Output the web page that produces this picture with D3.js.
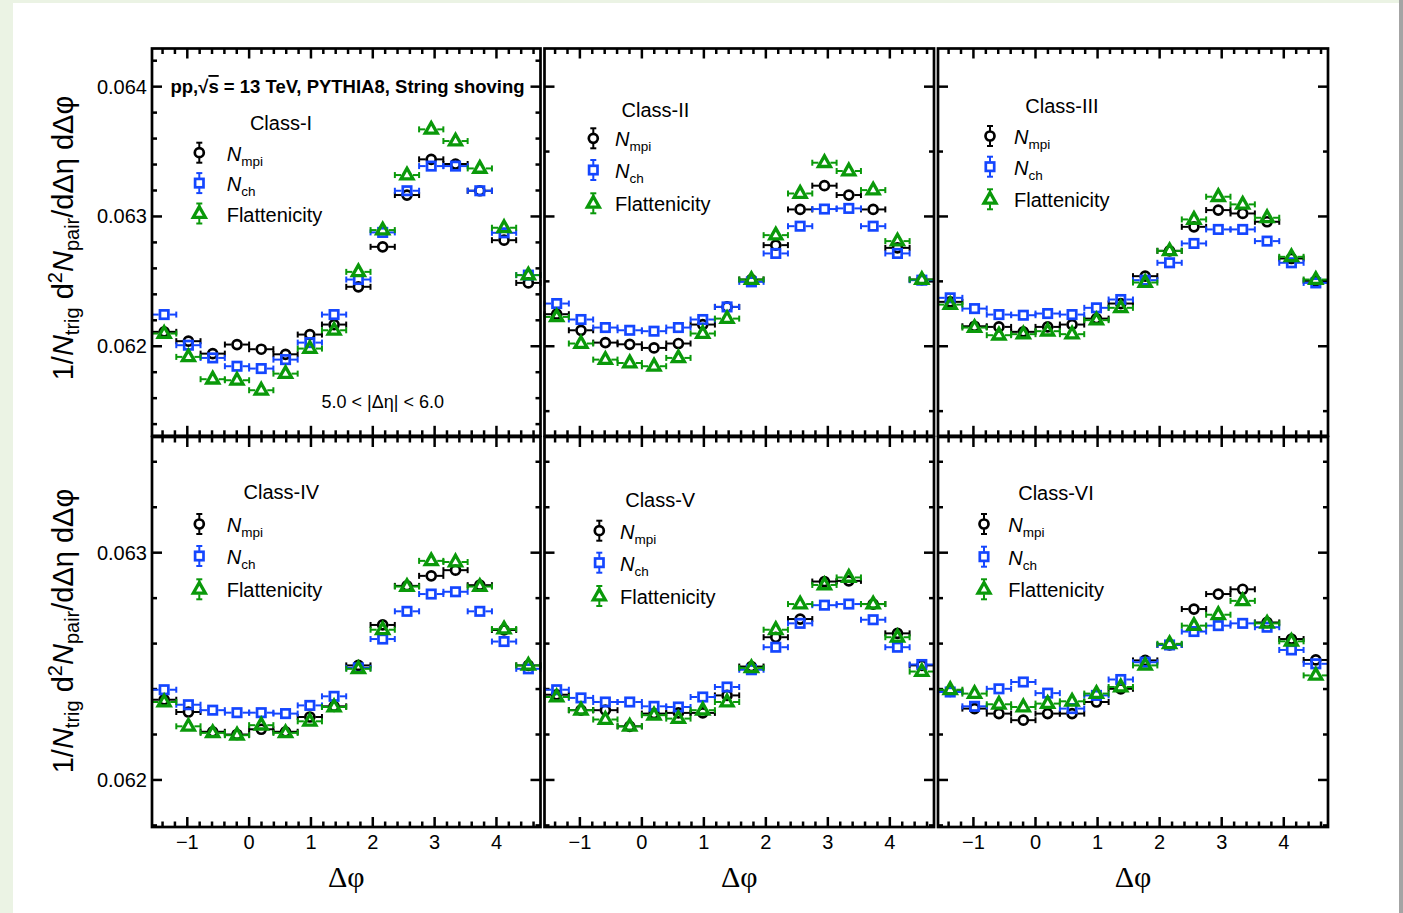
<!DOCTYPE html>
<html><head><meta charset="utf-8">
<script src="https://cdn.jsdelivr.net/npm/d3@7"></script>
<style>
body{margin:0;background:#fff;}
svg text{font-family:"Liberation Sans",Arial,Helvetica,sans-serif;fill:#000;}
</style>
</head><body>
<svg id="chart" width="1403" height="913"></svg>
<script>
// ---------------- DATA ----------------
const dphi = [-1.374,-0.982,-0.589,-0.196,0.196,0.589,0.982,1.374,1.767,2.160,2.553,2.945,3.338,3.731,4.123,4.516];
const dphiHalfWidth = 0.196;
const xTickLabels = [-1,0,1,2,3,4];
const yTickLabelsTop = [0.062,0.063,0.064];
const yTickLabelsBottom = [0.062,0.063];
const seriesNames = ["Nmpi","Nch","Flattenicity"];
const classNames = ["Class-I","Class-II","Class-III","Class-IV","Class-V","Class-VI"];

const classI_Nmpi = [0.062111,0.062039,0.061943,0.062013,0.061977,0.061938,0.062090,0.062167,0.062458,0.062766,0.063165,0.063440,0.063404,0.063198,0.062817,0.062488];
const classI_Nch  = [0.062244,0.062008,0.061910,0.061846,0.061828,0.061897,0.062028,0.062244,0.062514,0.062877,0.063198,0.063388,0.063388,0.063198,0.062874,0.062548];
const classI_Flat = [0.062098,0.061918,0.061746,0.061738,0.061661,0.061789,0.061982,0.062123,0.062573,0.062895,0.063319,0.063671,0.063581,0.063370,0.062913,0.062548];

const classII_Nmpi = [0.062247,0.062123,0.062028,0.062015,0.061987,0.062021,0.062167,0.062303,0.062514,0.062779,0.063054,0.063237,0.063165,0.063054,0.062758,0.062514];
const classII_Nch  = [0.062329,0.062206,0.062144,0.062123,0.062116,0.062144,0.062206,0.062303,0.062496,0.062715,0.062925,0.063057,0.063062,0.062925,0.062715,0.062509];
const classII_Flat = [0.062226,0.062021,0.061897,0.061871,0.061846,0.061910,0.062098,0.062213,0.062514,0.062856,0.063177,0.063414,0.063350,0.063203,0.062810,0.062514];

const classIII_Nmpi = [0.062342,0.062154,0.062149,0.062111,0.062149,0.062167,0.062213,0.062329,0.062540,0.062735,0.062920,0.063049,0.063023,0.062959,0.062676,0.062504];
const classIII_Nch  = [0.062373,0.062290,0.062244,0.062239,0.062252,0.062244,0.062296,0.062360,0.062509,0.062643,0.062792,0.062900,0.062900,0.062810,0.062643,0.062488];
const classIII_Flat = [0.062321,0.062144,0.062085,0.062093,0.062116,0.062093,0.062201,0.062296,0.062491,0.062735,0.062977,0.063152,0.063093,0.062990,0.062689,0.062514];

const classIV_Nmpi = [0.062353,0.062299,0.062212,0.062200,0.062223,0.062212,0.062277,0.062324,0.062504,0.062682,0.062854,0.062898,0.062923,0.062857,0.062660,0.062504];
const classIV_Nch  = [0.062397,0.062331,0.062307,0.062296,0.062296,0.062292,0.062328,0.062368,0.062493,0.062620,0.062742,0.062818,0.062828,0.062742,0.062609,0.062489];
const classIV_Flat = [0.062343,0.062236,0.062207,0.062197,0.062241,0.062207,0.062258,0.062321,0.062489,0.062661,0.062851,0.062964,0.062959,0.062851,0.062664,0.062504];

const classV_Nmpi = [0.062375,0.062307,0.062307,0.062236,0.062292,0.062295,0.062295,0.062372,0.062499,0.062628,0.062708,0.062873,0.062876,0.062774,0.062645,0.062504];
const classV_Nch  = [0.062397,0.062361,0.062343,0.062343,0.062324,0.062321,0.062365,0.062409,0.062485,0.062584,0.062689,0.062769,0.062774,0.062705,0.062584,0.062508];
const classV_Flat = [0.062365,0.062307,0.062266,0.062236,0.062285,0.062270,0.062307,0.062343,0.062493,0.062661,0.062774,0.062858,0.062891,0.062774,0.062628,0.062477];

const classVI_Nmpi = [0.062390,0.062314,0.062292,0.062263,0.062292,0.062292,0.062343,0.062401,0.062526,0.062594,0.062752,0.062818,0.062839,0.062693,0.062620,0.062528];
const classVI_Nch  = [0.062387,0.062324,0.062401,0.062431,0.062382,0.062314,0.062372,0.062442,0.062518,0.062594,0.062653,0.062679,0.062689,0.062672,0.062572,0.062511];
const classVI_Flat = [0.062397,0.062380,0.062333,0.062321,0.062336,0.062346,0.062380,0.062409,0.062504,0.062599,0.062679,0.062727,0.062788,0.062689,0.062610,0.062460];

// ---------------- LAYOUT / STYLE ----------------
const colRanges = [[152,540.5],[544.5,934],[938,1328]];
const rowRanges = [[48.5,435.8],[437,827]];
const yDomains = [[0.06131,0.064294],[0.061793,0.063509]];
const xDomain = [-Math.PI/2, 3*Math.PI/2];
const colors = {Nmpi:"#000000", Nch:"#1446ff", Flattenicity:"#0a990a"};
const markerShapes = {Nmpi:"circle", Nch:"square", Flattenicity:"triangle"};

const panels = [
  {cls:0,row:0,col:0,s:[classI_Nmpi,classI_Nch,classI_Flat],yMinor:0.0002,
   leg:{cx:129,cy:81.5,mx:47.3,rows:[104.2,134.6,165],lx:74.7}},
  {cls:1,row:0,col:1,s:[classII_Nmpi,classII_Nch,classII_Flat],yMinor:0.0005,
   leg:{cx:111,cy:68.2,mx:48.8,rows:[89.8,121.5,154.8],lx:70.5}},
  {cls:2,row:0,col:2,s:[classIII_Nmpi,classIII_Nch,classIII_Flat],yMinor:0.0005,
   leg:{cx:124,cy:64.2,mx:52,rows:[87.5,118.2,150.8],lx:76}},
  {cls:3,row:1,col:0,s:[classIV_Nmpi,classIV_Nch,classIV_Flat],yMinor:0.0002,
   leg:{cx:129.4,cy:62,mx:47.3,rows:[87,119,152.3],lx:74.7}},
  {cls:4,row:1,col:1,s:[classV_Nmpi,classV_Nch,classV_Flat],yMinor:0.0002,
   leg:{cx:115.7,cy:69.7,mx:54.8,rows:[93.7,125.7,159],lx:75.5}},
  {cls:5,row:1,col:2,s:[classVI_Nmpi,classVI_Nch,classVI_Flat],yMinor:0.0002,
   leg:{cx:118,cy:63,mx:46,rows:[87,119.7,152.3],lx:70.3}}
];

const svg = d3.select("#chart");
// page background (slide look)
svg.append("rect").attr("x",0).attr("y",0).attr("width",1403).attr("height",913).attr("fill","#ebf3e4");
svg.append("rect").attr("x",13).attr("y",3).attr("width",1386).attr("height",910).attr("fill","#ffffff");
svg.append("rect").attr("x",1399).attr("y",0).attr("width",4).attr("height",913).attr("fill","#a4a4a4");

function tickVals(d0,d1,step){
  const a=Math.ceil(d0/step-1e-9), b=Math.floor(d1/step+1e-9);
  return d3.range(a,b+1).map(i=>+(i*step).toFixed(8));
}
function isMajor(v,step){ return Math.abs(v/step-Math.round(v/step))<1e-6; }

function drawMarker(g,shape,x,y,color){
  if(shape==="circle"){
    g.append("circle").attr("cx",x).attr("cy",y).attr("r",4.5)
      .attr("fill","none").attr("stroke",color).attr("stroke-width",2.7);
  } else if(shape==="square"){
    g.append("rect").attr("x",x-4.2).attr("y",y-4.2).attr("width",8.4).attr("height",8.4)
      .attr("fill","none").attr("stroke",color).attr("stroke-width",2.7);
  } else {
    g.append("path").attr("d",`M${x},${y-6.8}L${x+6},${y+3.8}L${x-6},${y+3.8}Z`)
      .attr("fill","none").attr("stroke",color).attr("stroke-width",3.3).attr("stroke-linejoin","miter");
  }
}
const gapOf = {circle:5.5, square:5.5, triangle:6};

panels.forEach(p=>{
  const [x0,x1] = colRanges[p.col];
  const [y0,y1] = rowRanges[p.row];
  const xs = d3.scaleLinear().domain(xDomain).range([x0,x1]);
  const ys = d3.scaleLinear().domain(yDomains[p.row]).range([y1,y0]);
  const g = svg.append("g");

  // ticks
  const tg = g.append("g").attr("stroke","#000").attr("stroke-width",2.5);
  tickVals(xDomain[0],xDomain[1],0.2).forEach(v=>{
    const L = isMajor(v,1)?10:5.5, X=xs(v);
    tg.append("line").attr("x1",X).attr("x2",X).attr("y1",y1).attr("y2",y1-L);
    tg.append("line").attr("x1",X).attr("x2",X).attr("y1",y0).attr("y2",y0+L);
  });
  const yd = yDomains[p.row];
  tickVals(yd[0],yd[1],p.yMinor).forEach(v=>{
    const L = isMajor(v,0.001)?10:5, Y=ys(v);
    tg.append("line").attr("x1",x0).attr("x2",x0+L).attr("y1",Y).attr("y2",Y);
    tg.append("line").attr("x1",x1).attr("x2",x1-L).attr("y1",Y).attr("y2",Y);
  });

  // data
  seriesNames.forEach((sn,si)=>{
    const vals = p.s[si], color=colors[sn], shape=markerShapes[sn], gap=gapOf[shape];
    const sg = g.append("g");
    dphi.forEach((xv,i)=>{
      const X=xs(xv), Y=ys(vals[i]);
      const xl=xs(xv-dphiHalfWidth), xr=xs(xv+dphiHalfWidth);
      sg.append("line").attr("x1",xl).attr("x2",X-gap).attr("y1",Y).attr("y2",Y).attr("stroke",color).attr("stroke-width",2);
      sg.append("line").attr("x1",X+gap).attr("x2",xr).attr("y1",Y).attr("y2",Y).attr("stroke",color).attr("stroke-width",2);
      sg.append("line").attr("x1",xl).attr("x2",xl).attr("y1",Y-3).attr("y2",Y+3).attr("stroke",color).attr("stroke-width",2);
      sg.append("line").attr("x1",xr).attr("x2",xr).attr("y1",Y-3).attr("y2",Y+3).attr("stroke",color).attr("stroke-width",2);
      drawMarker(sg,shape,X,Y,color);
    });
  });

  // frame
  g.append("rect").attr("x",x0).attr("y",y0).attr("width",x1-x0).attr("height",y1-y0)
    .attr("fill","none").attr("stroke","#000").attr("stroke-width",2.7);

  // legend
  const L=p.leg;
  g.append("text").attr("x",x0+L.cx).attr("y",y0+L.cy).attr("text-anchor","middle")
    .attr("font-size",20).text(classNames[p.cls]);
  seriesNames.forEach((sn,si)=>{
    const ry=y0+L.rows[si], mx=x0+L.mx, color=colors[sn];
    const lg=g.append("g");
    lg.append("line").attr("x1",mx).attr("x2",mx).attr("y1",ry-10).attr("y2",ry-5).attr("stroke",color).attr("stroke-width",2);
    lg.append("line").attr("x1",mx).attr("x2",mx).attr("y1",ry+5).attr("y2",ry+10).attr("stroke",color).attr("stroke-width",2);
    lg.append("line").attr("x1",mx-3).attr("x2",mx+3).attr("y1",ry-10).attr("y2",ry-10).attr("stroke",color).attr("stroke-width",2);
    lg.append("line").attr("x1",mx-3).attr("x2",mx+3).attr("y1",ry+10).attr("y2",ry+10).attr("stroke",color).attr("stroke-width",2);
    drawMarker(lg,markerShapes[sn],mx,ry,color);
    const t=g.append("text").attr("x",x0+L.lx).attr("y",ry+8).attr("font-size",20);
    if(sn==="Flattenicity"){ t.text("Flattenicity"); }
    else {
      t.append("tspan").attr("font-style","italic").text("N");
      t.append("tspan").attr("font-size",13.5).attr("dy",5).text(sn==="Nmpi"?"mpi":"ch");
    }
  });

  // y tick labels (first column)
  if(p.col===0){
    const labs = p.row===0?yTickLabelsTop:yTickLabelsBottom;
    labs.forEach(v=>{
      g.append("text").attr("x",x0-5).attr("y",ys(v)+7).attr("text-anchor","end")
        .attr("font-size",20).text(d3.format(".3f")(v));
    });
  }
  // x tick labels + title (bottom row)
  if(p.row===1){
    xTickLabels.forEach(v=>{
      g.append("text").attr("x",xs(v)).attr("y",y1+22).attr("text-anchor","middle")
        .attr("font-size",20).text(v<0?"\u2212"+Math.abs(v):String(v));
    });
    g.append("text").attr("x",(x0+x1)/2).attr("y",y1+60).attr("text-anchor","middle")
      .attr("font-size",30).style("font-family","'Liberation Serif','Times New Roman',serif").text("\u0394\u03c6");
  }
});

// panel-1 annotations
{
  const t = svg.append("text").attr("x",170.5).attr("y",93).attr("font-size",18.5).attr("font-weight","bold");
  t.append("tspan").text("pp,\u221a");
  t.append("tspan").style("text-decoration","overline").text("s");
  t.append("tspan").text(" = 13 TeV, PYTHIA8, String shoving");
  svg.append("text").attr("x",321.5).attr("y",408).attr("font-size",18).text("5.0 < |\u0394\u03b7| < 6.0");
}

// y axis titles
[[238],[631]].forEach(([cy])=>{
  const t = svg.append("text").attr("transform",`translate(73,${cy}) rotate(-90)`)
    .attr("text-anchor","middle").attr("font-size",29);
  t.append("tspan").text("1/");
  t.append("tspan").attr("font-style","italic").text("N");
  t.append("tspan").attr("font-size",20).attr("dy",6).text("trig");
  t.append("tspan").attr("dy",-6).text(" d");
  t.append("tspan").attr("font-size",20).attr("dy",-11).text("2");
  t.append("tspan").attr("font-style","italic").attr("dy",11).text("N");
  t.append("tspan").attr("font-size",20).attr("dy",6).text("pair");
  t.append("tspan").attr("dy",-6).text("/d\u0394\u03b7 d\u0394\u03c6");
});
</script>
</body></html>
